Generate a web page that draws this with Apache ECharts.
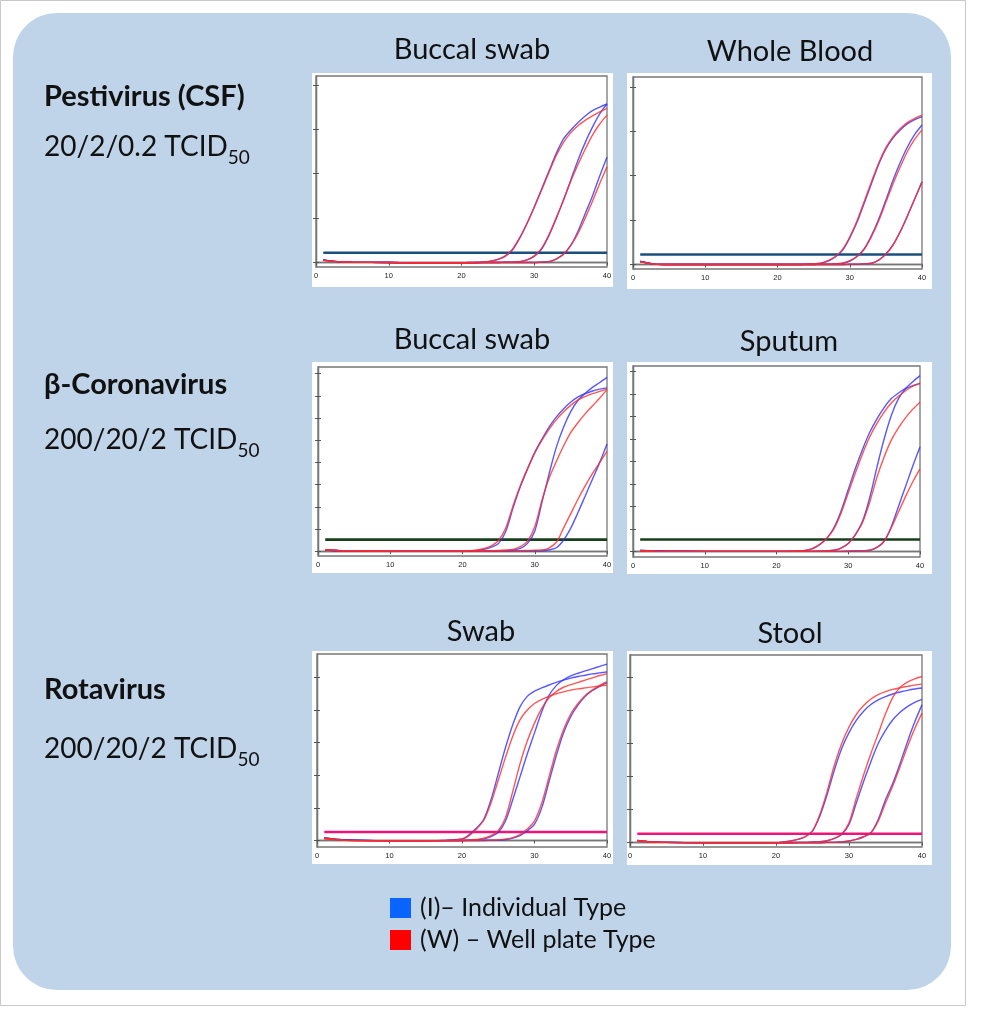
<!DOCTYPE html>
<html lang="en">
<head>
<meta charset="UTF-8">
<title>qPCR amplification curves</title>
<style>
    html, body {
        margin: 0;
        padding: 0;
        background: #fff;
    }
    #chart {
        width: 986px;
        height: 1020px;
    }
</style>
</head>
<body>
<div id="chart"></div>
<script src="https://cdn.jsdelivr.net/npm/echarts@6/dist/echarts.min.js"></script>
<script>
    var cycles = [1, 3, 5, 10, 15, 20, 21, 22, 23, 24, 25, 26, 27, 28, 29, 30, 31, 32, 33, 34, 35, 36, 37, 38, 39, 40];
    var xTicks = [0, 10, 20, 30, 40];

    // Pestivirus (CSF) - buccal swab. I = individual type, W = well plate type
    var pestBuccalI1 = [0.06, 0.02, 0.01, 0, -0.01, -0.01, 0, 0, 0.01, 0.03, 0.07, 0.14, 0.28, 0.55, 0.88, 1.25, 1.65, 2.05, 2.45, 2.78, 2.98, 3.15, 3.3, 3.42, 3.5, 3.57];
    var pestBuccalW1 = [0.05, 0.02, 0.01, 0, -0.01, -0.01, 0, 0, 0.01, 0.03, 0.07, 0.15, 0.3, 0.56, 0.88, 1.24, 1.63, 2.02, 2.4, 2.7, 2.92, 3.08, 3.2, 3.3, 3.39, 3.47];
    var pestBuccalI2 = [0.06, 0.02, 0.01, 0, -0.01, -0.01, -0.01, 0, 0, 0, 0, 0.01, 0.01, 0.02, 0.06, 0.14, 0.3, 0.6, 0.98, 1.4, 1.85, 2.3, 2.7, 3.05, 3.35, 3.57];
    var pestBuccalW2 = [0.05, 0.02, 0.01, 0, -0.01, -0.01, -0.01, 0, 0, 0, 0, 0.01, 0.01, 0.02, 0.06, 0.15, 0.32, 0.62, 1.0, 1.4, 1.82, 2.2, 2.55, 2.87, 3.12, 3.32];
    var pestBuccalI3 = [0.06, 0.02, 0.01, 0, -0.01, -0.01, -0.01, -0.01, 0, 0, 0, 0, 0, 0, 0, 0, 0.01, 0.02, 0.08, 0.18, 0.38, 0.7, 1.1, 1.5, 1.95, 2.37];
    var pestBuccalW3 = [0.05, 0.02, 0.01, 0, -0.01, -0.01, -0.01, -0.01, 0, 0, 0, 0, 0, 0, 0, 0, 0.01, 0.02, 0.08, 0.19, 0.38, 0.65, 1.0, 1.38, 1.78, 2.16];

    // Pestivirus (CSF) - whole blood
    var pestBloodI1 = [0.075, 0.01, 0, 0, 0, 0, 0, 0, 0, 0.01, 0.02, 0.03, 0.08, 0.17, 0.32, 0.6, 0.95, 1.38, 1.82, 2.25, 2.6, 2.85, 3.03, 3.17, 3.26, 3.33];
    var pestBloodW1 = [0.06, 0.01, 0, 0, 0, 0, 0, 0, 0, 0.01, 0.02, 0.03, 0.09, 0.18, 0.34, 0.62, 0.98, 1.42, 1.86, 2.28, 2.63, 2.88, 3.06, 3.2, 3.29, 3.36];
    var pestBloodI2 = [0.07, 0.01, 0, 0, 0, 0, 0, 0, 0, 0, 0, 0.01, 0.01, 0.02, 0.03, 0.08, 0.18, 0.35, 0.65, 1.02, 1.45, 1.9, 2.3, 2.65, 2.93, 3.14];
    var pestBloodW2 = [0.06, 0.01, 0, 0, 0, 0, 0, 0, 0, 0, 0, 0.01, 0.01, 0.02, 0.03, 0.08, 0.18, 0.35, 0.63, 0.98, 1.4, 1.82, 2.2, 2.55, 2.82, 3.03];
    var pestBloodI3 = [0.07, 0.01, 0, 0, 0, 0, 0, 0, 0, 0, 0, 0, 0, 0, 0, 0.01, 0.01, 0.02, 0.03, 0.1, 0.24, 0.45, 0.75, 1.1, 1.48, 1.86];
    var pestBloodW3 = [0.06, 0.01, 0, 0, 0, 0, 0, 0, 0, 0, 0, 0, 0, 0, 0, 0.01, 0.01, 0.02, 0.03, 0.1, 0.23, 0.44, 0.74, 1.1, 1.48, 1.86];

    // beta-coronavirus - buccal swab
    var coronaBuccalI1 = [0.05, 0.02, 0.01, 0, 0, 0, 0.01, 0.03, 0.08, 0.18, 0.35, 0.9, 1.95, 2.9, 3.7, 4.45, 5.05, 5.6, 6.05, 6.42, 6.72, 6.95, 7.1, 7.22, 7.3, 7.36];
    var coronaBuccalW1 = [0.06, 0.02, 0.01, 0, 0, 0, 0.02, 0.05, 0.12, 0.24, 0.48, 1.05, 2.05, 2.95, 3.72, 4.42, 5.0, 5.5, 5.93, 6.28, 6.58, 6.82, 6.98, 7.1, 7.2, 7.3];
    var coronaBuccalI2 = [0.05, 0.02, 0.01, 0, 0, 0, 0, 0, 0, 0.01, 0.01, 0.02, 0.05, 0.12, 0.35, 0.9, 2.2, 3.5, 4.7, 5.6, 6.3, 6.8, 7.12, 7.38, 7.6, 7.83];
    var coronaBuccalW2 = [0.06, 0.02, 0.01, 0, 0, 0, 0, 0, 0.01, 0.02, 0.03, 0.05, 0.08, 0.2, 0.45, 1.1, 2.3, 3.3, 4.05, 4.75, 5.35, 5.8, 6.2, 6.55, 6.9, 7.28];
    var coronaBuccalI3 = [0.05, 0.02, 0.01, 0, 0, 0, 0, 0, 0, 0, 0, 0, 0.01, 0.01, 0.01, 0.02, 0.02, 0.06, 0.15, 0.5, 1.05, 1.75, 2.5, 3.25, 4.0, 4.83];
    var coronaBuccalW3 = [0.06, 0.02, 0.01, 0, 0, 0, 0, 0, 0, 0, 0, 0.01, 0.01, 0.02, 0.03, 0.04, 0.05, 0.15, 0.4, 1.05, 1.7, 2.35, 2.95, 3.5, 4.0, 4.5];

    // beta-coronavirus - sputum
    var coronaSputumI1 = [0.04, 0.02, 0.01, 0, 0, 0, 0, 0.01, 0.02, 0.04, 0.12, 0.3, 0.58, 1.05, 1.8, 2.75, 3.7, 4.55, 5.3, 5.9, 6.4, 6.8, 7.05, 7.25, 7.38, 7.48];
    var coronaSputumW1 = [0.03, 0.01, 0, 0, 0, 0, 0, 0.01, 0.02, 0.04, 0.12, 0.3, 0.57, 1.0, 1.7, 2.6, 3.5, 4.35, 5.1, 5.7, 6.2, 6.6, 6.9, 7.15, 7.35, 7.48];
    var coronaSputumI2 = [0.04, 0.02, 0.01, 0, 0, 0, 0, 0, 0, 0, 0, 0.01, 0.02, 0.05, 0.15, 0.35, 0.75, 1.35, 2.4, 3.75, 5.0, 6.05, 6.8, 7.25, 7.55, 7.82];
    var coronaSputumW2 = [0.03, 0.01, 0, 0, 0, 0, 0, 0, 0, 0, 0, 0.01, 0.02, 0.05, 0.15, 0.35, 0.75, 1.3, 2.2, 3.3, 4.2, 4.95, 5.5, 5.95, 6.33, 6.64];
    var coronaSputumI3 = [0.04, 0.02, 0.01, 0, 0, 0, 0, 0, 0, 0, 0, 0, 0, 0, 0, 0.01, 0.02, 0.03, 0.05, 0.18, 0.45, 1.1, 2.0, 2.9, 3.8, 4.64];
    var coronaSputumW3 = [0.03, 0.01, 0, 0, 0, 0, 0, 0, 0, 0, 0, 0, 0, 0, 0, 0.01, 0.02, 0.03, 0.05, 0.18, 0.45, 1.05, 1.75, 2.45, 3.1, 3.67];

    // Rotavirus - swab
    var rotaSwabI1 = [0.08, 0.03, 0.01, -0.01, -0.01, 0.05, 0.18, 0.38, 0.65, 1.25, 2.05, 2.85, 3.55, 4.1, 4.42, 4.58, 4.68, 4.77, 4.85, 4.92, 4.98, 5.03, 5.07, 5.11, 5.14, 5.17];
    var rotaSwabW1 = [0.06, 0.02, 0, -0.01, -0.01, 0.04, 0.15, 0.35, 0.62, 1.15, 1.85, 2.55, 3.2, 3.7, 4.0, 4.2, 4.33, 4.42, 4.5, 4.56, 4.61, 4.65, 4.68, 4.71, 4.74, 4.76];
    var rotaSwabI2 = [0.08, 0.03, 0.01, -0.01, -0.01, 0, 0.01, 0.02, 0.05, 0.12, 0.25, 0.6, 1.25, 1.95, 2.65, 3.3, 3.95, 4.45, 4.75, 4.93, 5.05, 5.13, 5.2, 5.27, 5.34, 5.41];
    var rotaSwabW2 = [0.06, 0.02, 0, -0.01, -0.01, 0, 0.01, 0.03, 0.07, 0.15, 0.3, 0.7, 1.5, 2.35, 3.05, 3.6, 4.05, 4.38, 4.57, 4.7, 4.78, 4.85, 4.92, 4.99, 5.06, 5.12];
    var rotaSwabI3 = [0.08, 0.03, 0.01, -0.01, -0.01, 0, 0, 0, 0, 0.01, 0.01, 0.03, 0.07, 0.15, 0.3, 0.5, 1.0, 1.8, 2.6, 3.3, 3.8, 4.15, 4.42, 4.6, 4.73, 4.84];
    var rotaSwabW3 = [0.06, 0.02, 0, -0.01, -0.01, 0, 0, 0, 0.01, 0.01, 0.02, 0.04, 0.09, 0.18, 0.35, 0.6, 1.15, 1.95, 2.75, 3.4, 3.88, 4.2, 4.45, 4.62, 4.76, 4.87];

    // Rotavirus - stool
    var rotaStoolI1 = [0.07, 0.02, 0.01, 0, 0, 0, 0.02, 0.05, 0.1, 0.18, 0.36, 0.8, 1.45, 2.2, 2.85, 3.33, 3.7, 3.98, 4.18, 4.32, 4.42, 4.5, 4.56, 4.61, 4.65, 4.68];
    var rotaStoolW1 = [0.06, 0.02, 0.01, 0, 0, 0, 0.02, 0.05, 0.1, 0.18, 0.35, 0.85, 1.55, 2.35, 3.0, 3.5, 3.88, 4.15, 4.35, 4.48, 4.57, 4.64, 4.69, 4.73, 4.77, 4.8];
    var rotaStoolI2 = [0.07, 0.02, 0.01, 0, 0, 0, 0, 0, 0.01, 0.01, 0.02, 0.03, 0.06, 0.13, 0.25, 0.55, 1.2, 1.85, 2.45, 3.0, 3.4, 3.72, 3.95, 4.12, 4.25, 4.34];
    var rotaStoolW2 = [0.06, 0.02, 0.01, 0, 0, 0, 0, 0, 0.01, 0.01, 0.02, 0.03, 0.06, 0.13, 0.26, 0.6, 1.35, 2.05, 2.7, 3.3, 3.9, 4.4, 4.7, 4.86, 4.96, 5.03];
    var rotaStoolI3 = [0.07, 0.02, 0.01, 0, 0, 0, 0, 0, 0, 0, 0, 0, 0.01, 0.01, 0.02, 0.05, 0.1, 0.18, 0.3, 0.7, 1.3, 1.8, 2.4, 3.05, 3.65, 4.17];
    var rotaStoolW3 = [0.06, 0.02, 0.01, 0, 0, 0, 0, 0, 0, 0, 0, 0, 0.01, 0.01, 0.02, 0.05, 0.1, 0.18, 0.3, 0.65, 1.2, 1.72, 2.3, 2.9, 3.45, 3.92];

    // threshold level of each panel, and y ticks per row
    var thresholds = [0.22, 0.225, 0.52, 0.53, 0.26, 0.27];
    var yTicksRow1 = [0, 1, 2, 3, 4];
    var yTicksRow2 = [0, 1, 2, 3, 4, 5, 6, 7, 8];
    var yTicksRow3 = [0, 1, 2, 3, 4, 5];

    var panelTitles = ['Buccal swab', 'Whole Blood', 'Buccal swab', 'Sputum', 'Swab', 'Stool'];
    var seriesNames = ['(I)\u2013 Individual Type', '(W) \u2013 Well plate Type'];

    var panels = [
        {I: [pestBuccalI1, pestBuccalI2, pestBuccalI3], W: [pestBuccalW1, pestBuccalW2, pestBuccalW3], ticks: yTicksRow1},
        {I: [pestBloodI1, pestBloodI2, pestBloodI3], W: [pestBloodW1, pestBloodW2, pestBloodW3], ticks: yTicksRow1},
        {I: [coronaBuccalI1, coronaBuccalI2, coronaBuccalI3], W: [coronaBuccalW1, coronaBuccalW2, coronaBuccalW3], ticks: yTicksRow2},
        {I: [coronaSputumI1, coronaSputumI2, coronaSputumI3], W: [coronaSputumW1, coronaSputumW2, coronaSputumW3], ticks: yTicksRow2},
        {I: [rotaSwabI1, rotaSwabI2, rotaSwabI3], W: [rotaSwabW1, rotaSwabW2, rotaSwabW3], ticks: yTicksRow3},
        {I: [rotaStoolI1, rotaStoolI2, rotaStoolI3], W: [rotaStoolW1, rotaStoolW2, rotaStoolW3], ticks: yTicksRow3}
    ];

    // layout of each panel: plot frame, white card, y range, title position
    var layout = [
        {grid: [316, 76, 291, 191], card: [312, 73, 301, 214], y: [-0.1, 4.2], title: [472, 50], thr: '#1B4F7E'},
        {grid: [633, 77, 289, 192], card: [627, 73, 305, 216], y: [-0.1, 4.22], title: [790, 52], thr: '#1B4F7E'},
        {grid: [318, 367, 289, 189], card: [312, 362, 301, 211], y: [-0.22, 8.3], title: [472, 340], thr: '#183F1C'},
        {grid: [633, 366, 287, 191], card: [627, 362, 305, 212], y: [-0.25, 8.25], title: [789, 342], thr: '#183F1C'},
        {grid: [317, 654, 290, 193], card: [312, 651, 301, 213], y: [-0.2, 5.72], title: [481, 632], thr: '#F0147A'},
        {grid: [630, 655, 292, 192], card: [627, 651, 305, 214], y: [-0.13, 5.68], title: [790, 634], thr: '#F0147A'}
    ];

    var font = 'Lato';
    var grids = [], xAxes = [], yAxes = [], series = [];
    var graphics = [
        {type: 'rect', z: -30, shape: {x: 0.5, y: 0.5, width: 965, height: 1005}, style: {fill: '#fff', stroke: '#C8C8C8', lineWidth: 1}},
        {type: 'rect', z: -20, shape: {x: 13, y: 13, width: 938, height: 977, r: 44}, style: {fill: '#C0D4E9'}}
    ];

    var toPairs = function (values) {
        return cycles.map(function (c, k) {
            return [c, values[k]];
        });
    };

    panels.forEach(function (p, i) {
        var l = layout[i];
        grids.push({left: l.grid[0], top: l.grid[1], width: l.grid[2], height: l.grid[3],
            show: true, borderColor: '#777', borderWidth: 1.3, backgroundColor: '#fff'});
        graphics.push({type: 'rect', z: -10, shape: {x: l.card[0], y: l.card[1], width: l.card[2], height: l.card[3]},
            style: {fill: '#fff'}});
        graphics.push({type: 'text', x: l.title[0], y: l.title[1],
            style: {text: panelTitles[i], fontFamily: font, fontSize: 29, fill: '#111', align: 'center', verticalAlign: 'middle'}});

        xAxes.push({gridIndex: i, type: 'value', min: 0, max: 40, interval: 10,
            axisLine: {lineStyle: {color: '#777', width: 1.3}},
            axisTick: {show: false}, splitLine: {show: false},
            axisLabel: {fontSize: 7.5, color: '#222', margin: 5, fontFamily: 'Liberation Sans'}});
        xAxes.push({gridIndex: i, type: 'value', position: 'top', min: 0, max: 40, interval: 10,
            axisLine: {lineStyle: {color: '#777', width: 1.3}},
            axisTick: {inside: true, length: 3, lineStyle: {color: '#555'}},
            axisLabel: {show: false}, splitLine: {show: false}});
        yAxes.push({gridIndex: i, type: 'value', min: l.y[0], max: l.y[1],
            axisLine: {lineStyle: {color: '#777', width: 1.3}},
            axisTick: {length: 3, customValues: p.ticks, lineStyle: {color: '#555'}},
            axisLabel: {show: false}, splitLine: {show: false}});
        yAxes.push({gridIndex: i, type: 'value', position: 'right', min: l.y[0], max: l.y[1],
            axisLine: {lineStyle: {color: '#777', width: 1.3}},
            axisTick: {length: 3, customValues: p.ticks, lineStyle: {color: '#555'}},
            axisLabel: {show: false}, splitLine: {show: false}});

        var addCurve = function (values, name, color) {
            series.push({type: 'line', name: name, xAxisIndex: i * 2, yAxisIndex: i * 2,
                data: toPairs(values), showSymbol: false, smooth: 0.3, silent: true,
                itemStyle: {color: color},
                lineStyle: {color: color, width: 1.4, opacity: 0.8}});
        };
        p.I.forEach(function (v) { addCurve(v, seriesNames[0], '#2E2EFF'); });
        p.W.forEach(function (v) { addCurve(v, seriesNames[1], '#FF2A2A'); });

        series.push({type: 'line', name: 'threshold', xAxisIndex: i * 2, yAxisIndex: i * 2,
            data: [[cycles[0], thresholds[i]], [cycles[cycles.length - 1], thresholds[i]]],
            showSymbol: false, silent: true, z: 1,
            lineStyle: {color: l.thr, width: 2.6}});
    });

    // left labels (virus + dilution)
    var rowLabels = [
        {name: 'Pestivirus (CSF)', dose: '20/2/0.2 TCID{s|50}', y: [97, 147]},
        {name: '\u03b2-Coronavirus', dose: '200/20/2 TCID{s|50}', y: [385, 440]},
        {name: 'Rotavirus', dose: '200/20/2 TCID{s|50}', y: [690, 749]}
    ];
    rowLabels.forEach(function (r) {
        graphics.push({type: 'text', x: 44, y: r.y[0],
            style: {text: r.name, fontFamily: font, fontWeight: 'bold', fontSize: 29, fill: '#111', verticalAlign: 'middle'}});
        graphics.push({type: 'text', x: 44, y: r.y[1],
            style: {text: r.dose, fontFamily: font, fontSize: 28, fill: '#111', verticalAlign: 'middle',
                rich: {s: {fontFamily: font, fontSize: 19, fill: '#111', padding: [22, 0, 0, 0]}}}});
    });

    var chart = echarts.init(document.getElementById('chart'));
    chart.setOption({
        animation: false,
        graphic: {elements: graphics},
        legend: {
            orient: 'vertical', left: 390, top: 895, padding: 0, itemWidth: 21, itemHeight: 20, itemGap: 6,
            icon: 'rect', selectedMode: false,
            textStyle: {fontFamily: font, fontSize: 25, lineHeight: 26, color: '#111', padding: [0, 0, 0, 4]},
            data: [
                {name: seriesNames[0], itemStyle: {color: '#0A64FF'}},
                {name: seriesNames[1], itemStyle: {color: '#FF0000'}}
            ]
        },
        grid: grids,
        xAxis: xAxes,
        yAxis: yAxes,
        series: series
    });
</script>
</body>
</html>
